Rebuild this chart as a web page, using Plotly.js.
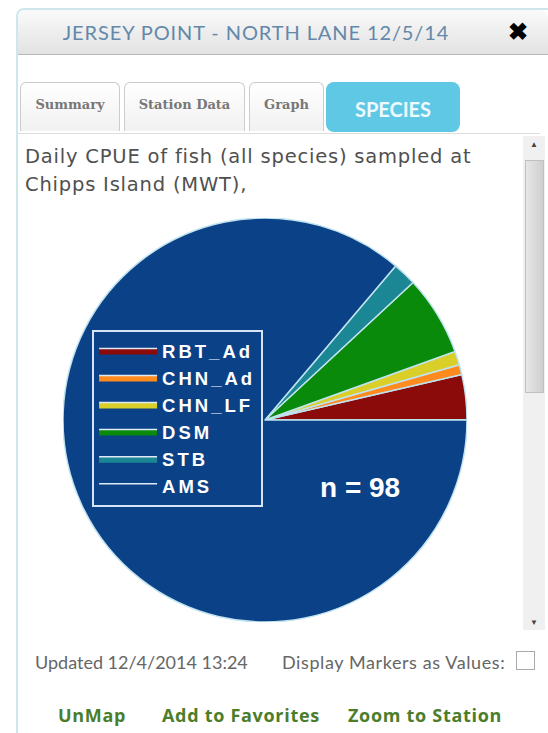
<!DOCTYPE html>
<html><head><meta charset="utf-8">
<script src="https://cdn.plot.ly/plotly-3.0.1.min.js"></script>
<style>
html,body{margin:0;padding:0;width:548px;height:733px;overflow:hidden;background:#fff;font-family:Lato,"Open Sans",sans-serif;}
#panel{position:absolute;left:16px;top:8px;width:540px;height:740px;border:2px solid #cfe6ea;border-radius:8px;background:#fff;}
#hdr{position:absolute;left:18px;top:10px;width:530px;height:44px;background:linear-gradient(#fafafa,#e2e2e2);border-bottom:1px solid #b8b8b8;border-radius:8px 8px 0 0;}
#hdr .t{position:absolute;left:0;width:476px;top:10px;text-align:center;font-size:20px;color:#6388aa;letter-spacing:0.9px;}
#hdr .x{position:absolute;left:490px;top:6px;font-size:24px;font-weight:bold;color:#000;}
.tab{position:absolute;top:82px;height:48px;border:1px solid #ccc;border-bottom:none;border-radius:6px 6px 0 0;background:linear-gradient(#fff,#f1f1f1);font-size:13px;font-weight:bold;color:#777;text-align:center;line-height:44px;font-family:"DejaVu Serif",serif;}
#sp{position:absolute;left:326px;top:82px;width:134px;height:50px;background:#5ec8e5;border-radius:8px;color:#eefafd;font-size:20px;font-weight:bold;text-align:center;line-height:54px;}
#content{position:absolute;left:18px;top:133px;width:522px;height:498px;border-top:1px solid #ddd;}
#desc{position:absolute;left:25px;top:143px;font-family:"DejaVu Sans",sans-serif;font-size:19.5px;letter-spacing:0.8px;line-height:28px;color:#505050;}
#sb{position:absolute;left:523px;top:136px;width:22px;height:494px;background:#f0f0f0;}
#thumb{position:absolute;left:525px;top:160px;width:19px;height:233px;background:linear-gradient(90deg,#e6e6e6,#cfcfcf);border:1px solid #c0c0c0;box-sizing:border-box;}
.arr{position:absolute;left:530px;font-size:8px;color:#444;}
#plot{position:absolute;left:63px;top:218px;width:404px;height:404px;}
#upd{position:absolute;left:35px;top:651px;font-size:18px;color:#666;}
#dm{position:absolute;left:282px;top:651px;font-size:18px;letter-spacing:0.6px;color:#666;}
#cb{position:absolute;left:516px;top:651px;width:17px;height:17px;border:1px solid #aaa;background:#fff;}
.lk{position:absolute;top:703px;font-family:"Open Sans",sans-serif;font-size:18px;letter-spacing:0.7px;font-weight:bold;color:#4b7d2b;}
.legendtext{letter-spacing:3px;}
</style></head>
<body>
<div id="panel"></div>
<div id="hdr"><div class="t">JERSEY POINT - NORTH LANE 12/5/14</div><div class="x">✖</div></div>
<div class="tab" style="left:20px;width:98px;">Summary</div>
<div class="tab" style="left:124px;width:119px;">Station Data</div>
<div class="tab" style="left:249px;width:73px;">Graph</div>
<div id="sp">SPECIES</div>
<div id="content"></div>
<div id="desc">Daily CPUE of fish (all species) sampled at<br>Chipps Island (MWT),</div>
<div id="sb"></div><div id="thumb"></div>
<div class="arr" style="top:139px;">▲</div><div class="arr" style="top:617px;">▼</div>
<div id="plot"></div>
<div id="upd">Updated 12/4/2014 13:24</div>
<div id="dm">Display Markers as Values:</div>
<div id="cb"></div>
<div class="lk" style="left:58px;">UnMap</div>
<div class="lk" style="left:162px;">Add to Favorites</div>
<div class="lk" style="left:348px;">Zoom to Station</div>
<script>
const species = ["RBT_Ad", "CHN_Ad", "CHN_LF", "DSM", "STB", "AMS"];
const cpue = [3.6, 0.8, 1.1, 6.4, 1.9, 86.2];
const colors = ["#8b0a0a", "#ff8a1e", "#d9cf28", "#0a8a0a", "#1b8694", "#0b4186"];
const nLabel = "n = 98";

const traces = [{
  type: "pie",
  labels: species,
  values: cpue,
  sort: false,
  direction: "counterclockwise",
  rotation: 77,
  textinfo: "none",
  hoverinfo: "label+value",
  showlegend: false,
  marker: {colors: colors, line: {color: "#bfe3f0", width: 1.5}},
  domain: {x: [0, 1], y: [0, 1]}
}];
species.forEach((s, i) => {
  traces.push({type: "scatter", mode: "lines", x: [null], y: [null], name: s,
    fill: "toself", fillcolor: colors[i],
    line: {color: "#dfe9f7", width: 1.5}, showlegend: true, hoverinfo: "skip"});
});

const layout = {
  width: 404, height: 404,
  margin: {l: 0, r: 0, t: 0, b: 0},
  paper_bgcolor: "rgba(0,0,0,0)",
  plot_bgcolor: "rgba(0,0,0,0)",
  xaxis: {visible: false}, yaxis: {visible: false},
  showlegend: true,
  legend: {x: 0.072, y: 0.723, xanchor: "left", yanchor: "top",
    bgcolor: "#0b4186", bordercolor: "#d6e4f5", borderwidth: 2,
    font: {family: "Liberation Sans, Arial, sans-serif", size: 18.5, color: "#ffffff", weight: "bold"},
    itemwidth: 58, traceorder: "normal"},
  annotations: [{text: nLabel, x: 0.735, y: 0.334, xref: "paper", yref: "paper",
    xanchor: "center", yanchor: "middle", showarrow: false,
    font: {family: "Liberation Sans, Arial, sans-serif", size: 28, color: "#ffffff", weight: "bold"}}]
};
Plotly.newPlot("plot", traces, layout, {displayModeBar: false, staticPlot: true});
</script>
</body></html>
